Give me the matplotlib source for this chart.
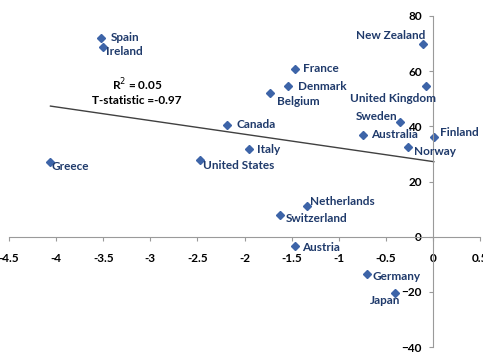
import numpy as np
import matplotlib.pyplot as plt

# values
countries = ["Spain", "Ireland", "Greece", "Canada", "United States", "France",
             "Denmark", "Belgium", "Italy", "New Zealand", "United Kingdom",
             "Sweden", "Australia", "Finland", "Norway", "Netherlands",
             "Switzerland", "Austria", "Germany", "Japan"]
x = np.array([-3.52, -3.50, -4.06, -2.19, -2.47, -1.46, -1.54, -1.73, -1.95, -0.10,
              -0.07, -0.35, -0.74, 0.01, -0.26, -1.34, -1.62, -1.46, -0.70, -0.40])
y = np.array([72.1, 68.8, 27.2, 40.6, 27.9, 60.9, 54.7, 52.2, 31.9, 69.9,
              54.7, 41.7, 36.9, 36.2, 32.6, 11.2, 8.0, -3.3, -13.4, -20.3])

# label placement: (dx, dy) in pixels, horizontal alignment
offsets = {
    "Spain": (9, 0, "left"), "Ireland": (3, -5, "left"), "Greece": (1, -5, "left"),
    "Canada": (10, 0, "left"), "United States": (3, -6, "left"),
    "France": (8, 0, "left"), "Denmark": (10, -1, "left"), "Belgium": (7, -9, "left"),
    "Italy": (8, -1, "left"), "New Zealand": (2, 8, "right"),
    "United Kingdom": (10, -13, "right"), "Sweden": (-3, 5, "right"),
    "Australia": (8, 0, "left"), "Finland": (6, 4, "left"), "Norway": (6, -5, "left"),
    "Netherlands": (3, 4, "left"), "Switzerland": (5, -4, "left"),
    "Austria": (7, -2, "left"), "Germany": (6, -3, "left"), "Japan": (5, -8, "right"),
}

plt.rcParams['font.family'] = ['Lato', 'DejaVu Sans']

fig = plt.figure(figsize=(4.83, 3.53), dpi=100)
ax = fig.add_axes([9/483, 1 - 347/353, 471/483, 331/353])

# trend line (least squares)
m, b = np.polyfit(x, y, 1)
xl = np.array([x.min(), x.max()])
ax.plot(xl, m * xl + b, color="#404040", lw=1.0, zorder=1)

ax.plot(x, y, "D", color="#3D64A8", ms=4.2, zorder=2)

for c, xi, yi in zip(countries, x, y):
    dx, dy, ha = offsets[c]
    ax.annotate(c, (xi, yi), xytext=(dx, dy), textcoords="offset pixels",
                ha=ha, va="center", fontsize=8.5, fontweight="bold", color="#1F3A6B")

ax.text(-3.14, 55, "R$^2$ = 0.05", ha="center", va="center", fontsize=8.5, fontweight="bold")
ax.text(-3.14, 49.3, "T-statistic =-0.97", ha="center", va="center", fontsize=8.5, fontweight="bold")

ax.set_xlim(-4.5, 0.5)
ax.set_ylim(-40, 80)
ax.set_xticks(np.arange(-4.5, 0.51, 0.5))
ax.set_xticklabels(["-4.5", "-4", "-3.5", "-3", "-2.5", "-2", "-1.5", "-1", "-0.5", "0", "0.5"])
ax.set_yticks(np.arange(-40, 81, 20))

ax.spines["left"].set_position(("data", 0))
ax.spines["bottom"].set_position(("data", 0))
ax.spines["right"].set_visible(False)
ax.spines["top"].set_visible(False)
for s in ("left", "bottom"):
    ax.spines[s].set_color("#9A9A9A")
ax.tick_params(axis="both", colors="#9A9A9A", length=3, labelcolor="black", labelsize=8.5)
ax.tick_params(axis="x", pad=9)
ax.tick_params(axis="y", pad=5)
for lab in ax.get_xticklabels() + ax.get_yticklabels():
    lab.set_fontweight("bold")

fig.savefig("out.png", dpi=100)
